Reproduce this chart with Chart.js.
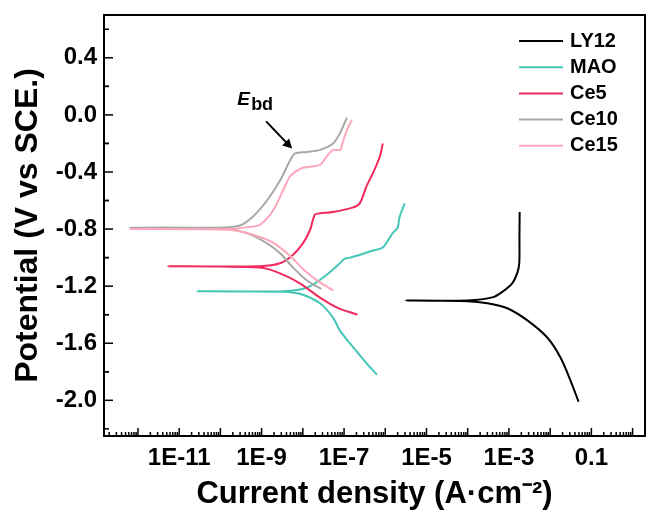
<!DOCTYPE html>
<html>
<head>
<meta charset="utf-8">
<script src="https://cdn.jsdelivr.net/npm/chart.js@4.4.1/dist/chart.umd.min.js"></script>
<style>
  body { margin: 0; background: #fff; }
  canvas { display: block; }
</style>
</head>
<body>
<canvas id="tafelChart" width="649" height="511"></canvas>
<script>
// Series names and colours
const seriesNames = ['LY12', 'MAO', 'Ce5', 'Ce10', 'Ce15'];
const seriesColors = ['#000000', '#44c6b6', '#f02a5e', '#a8a8a8', '#ffa7ba'];

// Polarization curves in scan order (cathodic end -> Ecorr -> anodic end)
// current density in A/cm2, potential in V vs SCE
const ly12Current = [0.049, 0.031, 0.0178, 0.0085, 0.0028, 9.1e-4, 3.0e-4, 1.0e-4, 3.2e-6,
  1.0e-4, 4.2e-4, 6.9e-4, 1.2e-3, 1.58e-3, 1.78e-3, 1.8e-3, 1.82e-3];
const ly12Potential = [-2.01, -1.86, -1.70, -1.56, -1.44, -1.355, -1.32, -1.305, -1.30,
  -1.30, -1.277, -1.24, -1.18, -1.11, -1.04, -0.85, -0.68];

const maoCurrent = [6.3e-7, 3.5e-7, 1.38e-7, 7.9e-8, 5.4e-8, 2.6e-8, 1.0e-8, 3.3e-9, 2.75e-11,
  3.3e-9, 1.26e-8, 3.8e-8, 7.9e-8, 1.0e-7, 1.4e-7, 2.5e-7, 5.0e-7, 8.7e-7, 1.5e-6, 2.0e-6, 2.2e-6, 2.95e-6];
const maoPotential = [-1.82, -1.74, -1.60, -1.51, -1.42, -1.32, -1.26, -1.24, -1.235,
  -1.235, -1.21, -1.12, -1.04, -1.01, -1.0, -0.98, -0.95, -0.93, -0.83, -0.79, -0.72, -0.62];

const ce5Current = [2.1e-7, 6.8e-8, 2.6e-8, 8.5e-9, 2.8e-9, 9.1e-10, 5.4e-12,
  9.1e-10, 2.8e-9, 5.8e-9, 1.0e-8, 1.48e-8, 1.95e-8, 2.5e-8, 5.4e-8, 1.6e-7, 2.4e-7, 3.5e-7, 5.0e-7, 7.4e-7, 8.7e-7];
const ce5Potential = [-1.40, -1.35, -1.28, -1.18, -1.11, -1.07, -1.06,
  -1.06, -1.04, -0.98, -0.90, -0.81, -0.70, -0.69, -0.68, -0.65, -0.62, -0.50, -0.41, -0.29, -0.20];

const ce10Current = [2.8e-8, 1.26e-8, 5.8e-9, 2.8e-9, 1.35e-9, 4.5e-10, 1.0e-10, 6.5e-13,
  1.0e-10, 3.0e-10, 6.3e-10, 1.35e-9, 2.8e-9, 4.9e-9, 6.5e-9, 1.26e-8, 2.6e-8, 5.4e-8, 7.9e-8, 1.17e-7];
const ce10Potential = [-1.22, -1.16, -1.07, -0.97, -0.90, -0.83, -0.795, -0.79,
  -0.79, -0.775, -0.71, -0.60, -0.46, -0.32, -0.27, -0.26, -0.245, -0.20, -0.13, -0.02];

const ce15Current = [5.5e-8, 2.5e-8, 1.1e-8, 5.0e-9, 2.0e-9, 6.3e-10, 1.6e-10, 6.5e-13,
  1.6e-10, 5.0e-10, 9.1e-10, 1.9e-9, 3.3e-9, 4.9e-9, 6.5e-9, 1.0e-8, 2.6e-8, 3.8e-8, 5.5e-8, 8.1e-8, 9.1e-8, 1.2e-7, 1.55e-7];
const ce15Potential = [-1.23, -1.17, -1.09, -0.99, -0.90, -0.84, -0.805, -0.80,
  -0.80, -0.785, -0.77, -0.67, -0.53, -0.43, -0.40, -0.37, -0.35, -0.29, -0.245, -0.245, -0.20, -0.10, -0.035];

const seriesCurrents = [ly12Current, maoCurrent, ce5Current, ce10Current, ce15Current];
const seriesPotentials = [ly12Potential, maoPotential, ce5Potential, ce10Potential, ce15Potential];

// Axis ticks
const yTickValues = [-2.0, -1.6, -1.2, -0.8, -0.4, 0.0, 0.4];
const yTickLabels = ['-2.0', '-1.6', '-1.2', '-0.8', '-0.4', '0.0', '0.4'];
const xTickValues = [1e-11, 1e-9, 1e-7, 1e-5, 1e-3, 0.1];
const xTickLabels = ['1E-11', '1E-9', '1E-7', '1E-5', '1E-3', '0.1'];

// Breakdown potential marker on Ce10
const ebdPoint = [6.5e-9, -0.27];

const FONT = '"Liberation Sans", Arial, Helvetica, sans-serif';

function strokeLine(ctx, x1, y1, x2, y2) {
  ctx.beginPath();
  ctx.moveTo(x1, y1);
  ctx.lineTo(x2, y2);
  ctx.stroke();
}

// Frame with inward major/minor ticks
const frameTicks = {
  id: 'frameTicks',
  afterDraw(chart) {
    const { ctx, chartArea: a, scales: { x, y } } = chart;
    ctx.save();
    ctx.strokeStyle = '#000';
    ctx.lineWidth = 1.5;
    yTickValues.forEach(v => {
      const py = y.getPixelForValue(v);
      strokeLine(ctx, a.left, py, a.left + 9, py);
      [v - 0.2, v + 0.2].forEach(m => {
        if (m > y.min && m < y.max) {
          const pm = y.getPixelForValue(m);
          strokeLine(ctx, a.left, pm, a.left + 5, pm);
        }
      });
    });
    for (let d = -13; d <= 0; d++) {
      for (let m = 1; m <= 9; m++) {
        const val = m * Math.pow(10, d);
        if (val <= x.min || val >= x.max) continue;
        const px = x.getPixelForValue(val);
        strokeLine(ctx, px, a.bottom, px, a.bottom - (m === 1 ? 8 : 4));
      }
    }
    ctx.lineWidth = 2;
    ctx.strokeRect(a.left, a.top, a.right - a.left, a.bottom - a.top);
    ctx.restore();
  }
};

// Legend in the upper right corner
const cornerLegend = {
  id: 'cornerLegend',
  afterDraw(chart) {
    const { ctx, chartArea: a } = chart;
    ctx.save();
    ctx.font = 'bold 20px ' + FONT;
    ctx.textBaseline = 'middle';
    chart.data.datasets.forEach((ds, i) => {
      const yy = a.top + 26 + i * 26.2;
      ctx.strokeStyle = ds.borderColor;
      ctx.lineWidth = 2;
      strokeLine(ctx, a.right - 126, yy, a.right - 82, yy);
      ctx.fillStyle = '#000';
      ctx.fillText(ds.label, a.right - 75, yy);
    });
    ctx.restore();
  }
};

// E_bd label with arrow
const ebdMarker = {
  id: 'ebdMarker',
  afterDraw(chart) {
    const { ctx, scales: { x, y } } = chart;
    const tx = x.getPixelForValue(ebdPoint[0]) - 3;
    const ty = y.getPixelForValue(ebdPoint[1]) - 5;
    ctx.save();
    ctx.strokeStyle = '#000';
    ctx.fillStyle = '#000';
    ctx.lineWidth = 2;
    strokeLine(ctx, tx - 26, ty - 27, tx - 5, ty - 5);
    ctx.beginPath();
    ctx.moveTo(tx, ty);
    ctx.lineTo(tx - 10, ty - 3);
    ctx.lineTo(tx - 3, ty - 10);
    ctx.closePath();
    ctx.fill();
    ctx.textBaseline = 'alphabetic';
    ctx.font = 'italic bold 19px ' + FONT;
    ctx.fillText('E', tx - 55, ty - 43);
    ctx.font = 'bold 18px ' + FONT;
    ctx.fillText('bd', tx - 41, ty - 38);
    ctx.restore();
  }
};

const datasets = seriesNames.map((name, i) => ({
  label: name,
  data: seriesCurrents[i].map((c, k) => ({ x: c, y: seriesPotentials[i][k] })),
  borderColor: seriesColors[i],
  backgroundColor: seriesColors[i],
  borderWidth: 2,
  pointRadius: 0,
  showLine: true,
  tension: 0.3,
  fill: false,
  order: seriesNames.length - i
}));

new Chart(document.getElementById('tafelChart'), {
  type: 'scatter',
  data: { datasets: datasets },
  options: {
    responsive: false,
    animation: false,
    layout: { padding: { top: 15, right: 4, left: 0, bottom: 0 } },
    plugins: {
      legend: { display: false },
      tooltip: { enabled: false }
    },
    scales: {
      x: {
        type: 'logarithmic',
        min: 1.5e-13,
        max: 2.0,
        afterFit(scale) {
          scale.height = 75;
          scale.paddingLeft = 0;
          scale.paddingRight = 0;
        },
        afterBuildTicks(scale) { scale.ticks = xTickValues.map(v => ({ value: v })); },
        grid: { display: false, drawTicks: false },
        border: { display: false },
        ticks: {
          autoSkip: false,
          maxRotation: 0,
          padding: 8,
          color: '#000',
          font: { family: FONT, size: 24, weight: 'bold' },
          callback: (v, i) => xTickLabels[i]
        },
        title: {
          display: true,
          text: 'Current density (A\u00b7cm\u207b\u00b2)',
          color: '#000',
          font: { family: FONT, size: 31, weight: 'bold', lineHeight: 1 },
          padding: { top: 0, bottom: 1 }
        }
      },
      y: {
        type: 'linear',
        min: -2.25,
        max: 0.7,
        afterFit(scale) {
          scale.width = 104;
          scale.paddingTop = 0;
          scale.paddingBottom = 0;
        },
        afterBuildTicks(scale) { scale.ticks = yTickValues.map(v => ({ value: v })); },
        grid: { display: false, drawTicks: false },
        border: { display: false },
        ticks: {
          padding: 7,
          color: '#000',
          font: { family: FONT, size: 24, weight: 'bold' },
          callback: (v, i) => yTickLabels[i]
        },
        title: {
          display: true,
          text: 'Potential (V vs SCE.)',
          color: '#000',
          font: { family: FONT, size: 32, weight: 'bold', lineHeight: 1 },
          padding: { top: 12, bottom: 0 }
        }
      }
    }
  },
  plugins: [frameTicks, cornerLegend, ebdMarker]
});
</script>
</body>
</html>
